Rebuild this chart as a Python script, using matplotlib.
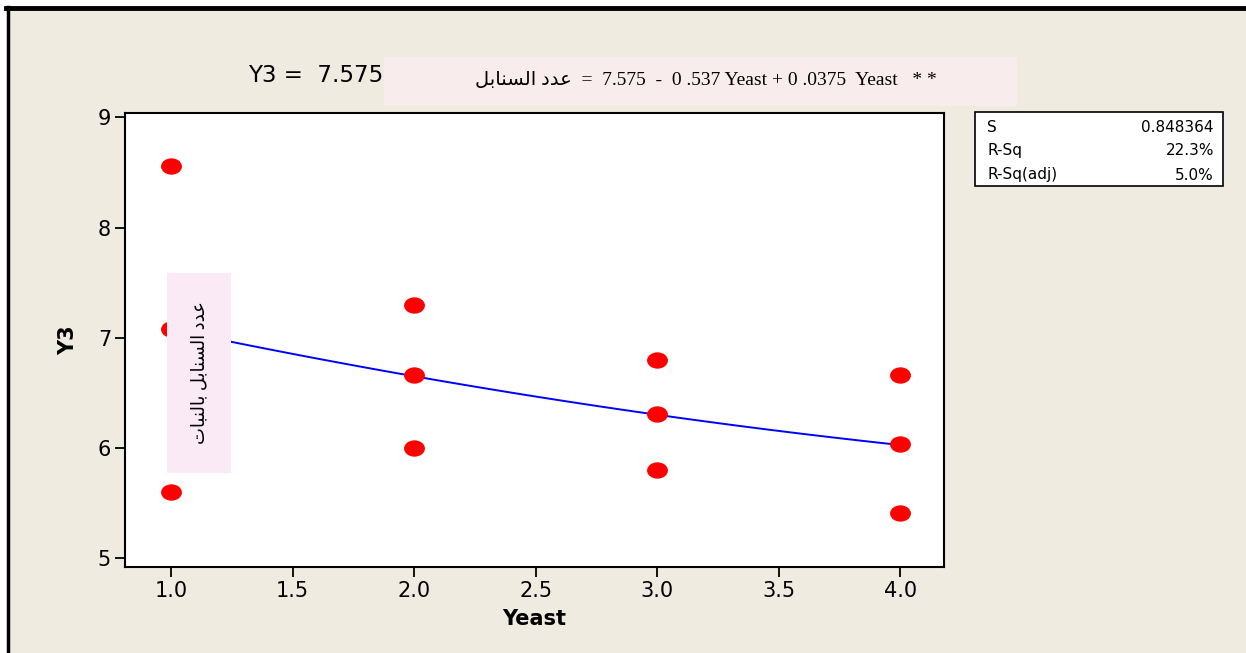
import numpy as np
import matplotlib
matplotlib.use('Agg')
import matplotlib.pyplot as plt
from matplotlib.patches import Rectangle
from matplotlib.lines import Line2D
from matplotlib.path import Path
from matplotlib.transforms import Affine2D, Bbox

# data
yeast = [1, 1, 1, 2, 2, 2, 3, 3, 3, 4, 4, 4]
y3 = [8.56, 7.08, 5.60, 7.30, 6.66, 6.00, 6.80, 6.31, 5.80, 6.66, 6.04, 5.41]
coef = [0.0375, -0.537, 7.575]          # fitted quadratic, as printed
stats_names = ['S', 'R-Sq', 'R-Sq(adj)']
stats_vals = ['0.848364', '22.3%', '5.0%']
xticks = [1.0, 1.5, 2.0, 2.5, 3.0, 3.5, 4.0]
yticks = [5, 6, 7, 8, 9]

BG = '#efebe0'

# tiny arabic shaper (only the letters needed here)
FORMS = {  # isolated, final, initial, medial
    'ع': ('\ufec9', '\ufeca', '\ufecb', '\ufecc'),
    'د': ('\ufea9', '\ufeaa', None, None),
    'ا': ('\ufe8d', '\ufe8e', None, None),
    'ل': ('\ufedd', '\ufede', '\ufedf', '\ufee0'),
    'س': ('\ufeb1', '\ufeb2', '\ufeb3', '\ufeb4'),
    'ن': ('\ufee5', '\ufee6', '\ufee7', '\ufee8'),
    'ب': ('\ufe8f', '\ufe90', '\ufe91', '\ufe92'),
    'ت': ('\ufe95', '\ufe96', '\ufe97', '\ufe98'),
}

def joins_next(c):
    return c in FORMS and FORMS[c][2] is not None

def shape(txt):
    out = []
    for i, c in enumerate(txt):
        if c not in FORMS:
            out.append(c)
            continue
        prev = txt[i - 1] if i > 0 else ' '
        nxt = txt[i + 1] if i + 1 < len(txt) else ' '
        a = joins_next(prev)
        b = joins_next(c) and nxt in FORMS
        f = FORMS[c]
        if a and b:
            out.append(f[3])
        elif a:
            out.append(f[1])
        elif b:
            out.append(f[2])
        else:
            out.append(f[0])
    return ''.join(out[::-1])

def main():
    fig = plt.figure(figsize=(12.46, 6.53), dpi=100, facecolor='white')
    W, H = 1246, 653
    fx = lambda p: p / W
    fy = lambda p: 1 - p / H

    fig.patches.append(Rectangle((fx(8), 0), 1, fy(8), transform=fig.transFigure,
                                 facecolor=BG, edgecolor='none', zorder=-5))
    fig.add_artist(Line2D([fx(6), 1], [fy(8), fy(8)], color='black', lw=3.5))
    fig.add_artist(Line2D([fx(8), fx(8)], [0, fy(7)], color='black', lw=2.5))

    ax = fig.add_axes([fx(125), fy(567), fx(944) - fx(125), fy(113) - fy(567)])
    ax.set_facecolor('white')

    ell = Path.unit_circle().transformed(Affine2D().scale(1.3, 1.0))
    fit = np.poly1d(coef)
    xs = np.linspace(1, 4, 40)
    ax.plot(xs, fit(xs), color='#0000ff', lw=1.4, zorder=2)
    ax.plot(yeast, y3, linestyle='none', marker=ell, markersize=14,
            color='#ff0000', zorder=3)

    ax.set_xlim(0.81, 4.18)
    ax.set_ylim(4.92, 9.04)
    ax.set_xticks(xticks)
    ax.set_xticklabels(['%.1f' % v for v in xticks])
    ax.set_yticks(yticks)
    for s in ('top', 'right', 'bottom', 'left'):
        ax.spines[s].set_linewidth(1.5)
    ax.tick_params(direction='out', length=7, width=1.3, labelsize=15, pad=3)
    ax.set_xlabel('Yeast', fontsize=15, fontweight='bold', labelpad=6)
    ax.set_ylabel('Y3', fontsize=15, fontweight='bold', labelpad=14)

    # minitab title, partly hidden under the pink box
    title = fig.text(fx(248), fy(76), 'Y3 =  7.575 - 0.5375 Yeast + 0.03750 Yeast**2',
                     fontsize=16.5, va='center', ha='left')
    title.set_clip_box(Bbox([[0, 0], [384, H]]))
    fig.patches.append(Rectangle((fx(384), fy(106)), fx(1017) - fx(384),
                                 fy(57) - fy(106), transform=fig.transFigure,
                                 facecolor='#f8ecec', edgecolor='none', zorder=5))
    eq = shape('عدد السنابل') + '  =  7.575  -  0 .537 Yeast + 0 .0375  Yeast   * *'
    fig.text(fx(706), fy(80), eq, fontsize=14, va='center', ha='center', zorder=6,
             family=['Liberation Serif', 'DejaVu Sans'])

    # vertical label box
    fig.patches.append(Rectangle((fx(167), fy(473)), fx(231) - fx(167),
                                 fy(273) - fy(473), transform=fig.transFigure,
                                 facecolor='#f9eaf6', edgecolor='none', zorder=5))
    fig.text(fx(200), fy(373), shape('عدد السنابل بالنبات'), rotation=90,
             fontsize=13, va='center', ha='center', zorder=6,
             family=['Liberation Serif', 'DejaVu Sans'])

    # stats box
    fig.patches.append(Rectangle((fx(975), fy(186)), fx(1223) - fx(975),
                                 fy(112) - fy(186), transform=fig.transFigure,
                                 facecolor='white', edgecolor='black', lw=1.2, zorder=5))
    for i, (n, v) in enumerate(zip(stats_names, stats_vals)):
        yy = fy(127 + 24 * i)
        fig.text(fx(987), yy, n, fontsize=11, va='center', ha='left', zorder=6)
        fig.text(fx(1214), yy, v, fontsize=11, va='center', ha='right', zorder=6)

    fig.savefig('out.png', dpi=100, facecolor=fig.get_facecolor())

if __name__ == '__main__':
    main()
